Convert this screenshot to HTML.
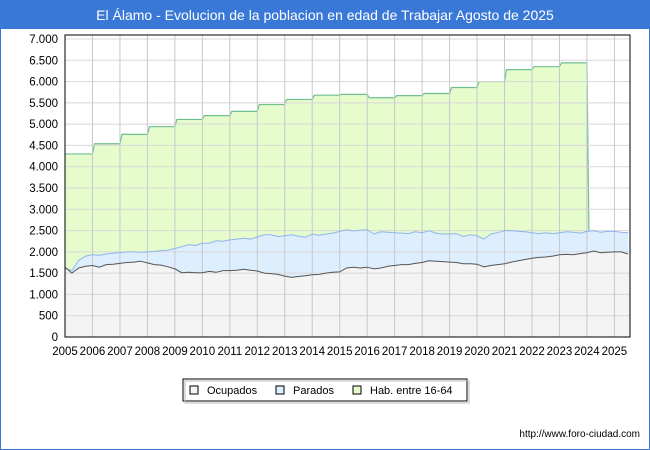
<!DOCTYPE html>
<html><head><meta charset="utf-8"><style>
body{margin:0;background:#fff;font-family:"Liberation Sans",sans-serif;}
#wrap{position:relative;width:648px;height:448px;border:1px solid #3a78d8;overflow:hidden;}
#title{position:absolute;left:0;top:0;width:648px;height:28px;background:#3a78d8;color:#fff;font-size:14px;line-height:28px;text-align:center;}
</style></head><body>
<div id="wrap">
<div id="title">El Álamo - Evolucion de la poblacion en edad de Trabajar Agosto de 2025</div>
<svg id="c" width="650" height="450" style="position:absolute;left:-1px;top:-1px"></svg>
</div>
<script>
const yearLabels=[2005,2006,2007,2008,2009,2010,2011,2012,2013,2014,2015,2016,2017,2018,2019,2020,2021,2022,2023,2024,2025];
const yTicks=[0,500,1000,1500,2000,2500,3000,3500,4000,4500,5000,5500,6000,6500,7000];
const habYears=[2005,2006,2007,2008,2009,2010,2011,2012,2013,2014,2015,2016,2017,2018,2019,2020,2021,2022,2023];
const habValues=[4300,4540,4760,4940,5110,5200,5300,5460,5580,5680,5700,5620,5670,5720,5860,6000,6280,6350,6440];
const activos=[1620,1560,1800,1900,1930,1920,1950,1970,1980,2000,2000,1990,2000,2010,2030,2040,2080,2120,2170,2150,2200,2200,2260,2250,2280,2300,2320,2300,2350,2400,2400,2360,2380,2400,2370,2340,2420,2390,2420,2440,2480,2520,2490,2510,2520,2420,2470,2460,2450,2440,2430,2470,2450,2500,2440,2420,2420,2430,2360,2400,2380,2300,2420,2450,2500,2500,2480,2470,2450,2430,2450,2430,2450,2470,2460,2440,2480,2500,2460,2480,2480,2460,2450];
const ocupados=[1640,1500,1620,1660,1680,1640,1700,1710,1730,1750,1760,1780,1740,1700,1690,1650,1600,1510,1520,1510,1510,1540,1520,1560,1560,1570,1590,1570,1550,1500,1490,1470,1430,1400,1420,1440,1460,1470,1500,1520,1530,1620,1640,1620,1640,1600,1620,1660,1680,1700,1700,1730,1750,1790,1780,1770,1760,1750,1720,1720,1710,1650,1680,1700,1720,1760,1790,1820,1850,1870,1880,1900,1930,1940,1930,1960,1980,2020,1980,1990,2000,2000,1950];
const startYear=2005, endYear=2025.55;
const svg=document.getElementById('c');const NS='http://www.w3.org/2000/svg';
const L=65,R=630,T=35,B=337;
const x=v=>L+(v-2005)*27.47;
const y=v=>B-v*(298/7000);
function mk(t,a,parent){const e=document.createElementNS(NS,t);for(const k in a)e.setAttribute(k,a[k]);(parent||svg).appendChild(e);return e;}
const tx=i=>Math.min(startYear+i*0.25,endYear);
mk('rect',{x:L,y:T,width:R-L,height:B-T,fill:'#fff'});
// hab area
let hp=`M${x(2005)},${y(0)}`;
habYears.forEach((yr,i)=>{hp+=` L${x(yr)+(i?2:0)},${y(habValues[i])} L${x(yr+1)},${y(habValues[i])}`;});
hp+=` L${x(2024)+2},${y(activos[76])} L${x(2024)+2},${y(0)}Z`;
let a1=mk('path',{d:hp,fill:'#e6fccd',stroke:'none'});

let hl='';habYears.forEach((yr,i)=>{hl+=(i?' L':'M')+`${x(yr)+(i?2:0)},${y(habValues[i])} L${x(yr+1)},${y(habValues[i])}`;});
hl+=` L${x(2024)+2},${y(activos[76])}`;
let l1=mk('path',{d:hl,fill:'none',stroke:'#6fbf8f','stroke-width':1.2});

function line(arr){return arr.map((v,i)=>(i?'L':'M')+x(tx(i)).toFixed(1)+','+y(v).toFixed(1)).join(' ');}
let a2=mk('path',{d:line(activos)+` L${R},${y(0)} L${L},${y(0)}Z`,fill:'#ddeefe'});

let a3=mk('path',{d:line(ocupados)+` L${R},${y(0)} L${L},${y(0)}Z`,fill:'#f4f4f4'});

// grid
yTicks.forEach(t=>{let g=mk('line',{x1:L,x2:R,y1:y(t),y2:y(t),stroke:'#d8d8d8'});
let lb=mk('text',{x:58,y:y(t)+4,'text-anchor':'end','font-size':11.5,fill:'#000'});lb.textContent=t.toLocaleString('de-DE');});
yearLabels.forEach(yr=>{if(yr>2005){let g=mk('line',{x1:x(yr),x2:x(yr),y1:T,y2:B,stroke:'#c8c8c8'});}
let lb=mk('text',{x:x(yr),y:355,'text-anchor':'middle','font-size':11.5,fill:'#000'});lb.textContent=yr;});
let l2=mk('path',{d:line(activos),fill:'none',stroke:'#8fb4ee','stroke-width':1});

let l3=mk('path',{d:line(ocupados),fill:'none',stroke:'#555','stroke-width':1});

let bx=mk('rect',{x:L,y:T,width:R-L,height:B-T,fill:'none',stroke:'#000'});

// legend
let lg=mk('g',{});
mk('rect',{x:183,y:379,width:284,height:22,fill:'#fff',stroke:'#000'},lg);
mk('rect',{x:185,y:381,width:284,height:22,fill:'none',stroke:'#bbb'},lg);
[['Ocupados','#f4f4f4',190],['Parados','#ddeefe',276],['Hab. entre 16-64','#e6fccd',353]].forEach(([n,c,px])=>{
let g=mk('g',{},lg);
mk('rect',{x:px,y:386,width:8,height:8,fill:c,stroke:'#000'},g);
let t=mk('text',{x:px+17,y:394,'font-size':11},g);t.textContent=n;});
let u=mk('text',{x:640,y:437,'text-anchor':'end','font-size':10,fill:'#000'});u.textContent='http://www.foro-ciudad.com';

</script>
</body></html>
